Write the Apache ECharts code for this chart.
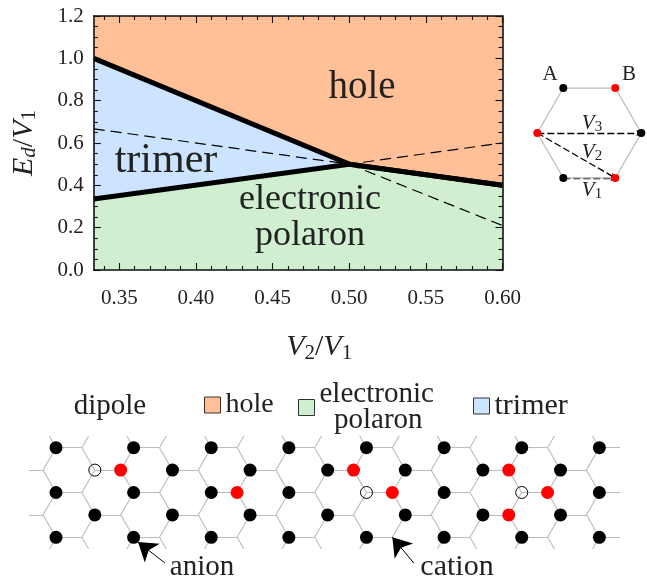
<!DOCTYPE html>
<html><head><meta charset="utf-8">
<style>html,body{margin:0;padding:0;background:#fff}#c{width:647px;height:581px}</style>
<script src="https://cdn.jsdelivr.net/npm/echarts@6/dist/echarts.min.js"></script>
</head><body><div id="c"></div>
<script>
// phase diagram data: [V2/V1, Ed/V1]
const holeTop = [[1/3,1.2],[0.6,1.2]];
const trimerTop = [[1/3,1.0],[0.5,0.5],[0.6,0.4]];
const polaronTop = [[1/3,0.335],[0.5,0.5],[0.6,0.4]];
const dashedA = [[1/3,0.667],[0.5,0.5],[0.6,0.6]];
const dashedB = [[0.5,0.5],[0.6,0.21]];
const xMajor = [0.35,0.40,0.45,0.50,0.55,0.60];
const xMinor = [0.34,0.36,0.37,0.38,0.39,0.41,0.42,0.43,0.44,0.46,0.47,0.48,0.49,0.51,0.52,0.53,0.54,0.56,0.57,0.58,0.59];
// lattice sites: [column, row] in bond-length columns and half-hexagon rows
const anionSites = [[0,0],[3,0],[6,0],[9,0],[12,0],[15,0],[18,0],[21,0],
  [4.5,1],[7.5,1],[10.5,1],[13.5,1],[16.5,1],[19.5,1],
  [0,2],[3,2],[6,2],[9,2],[15,2],[21,2],
  [1.5,3],[4.5,3],[7.5,3],[10.5,3],[13.5,3],[16.5,3],[19.5,3],
  [0,4],[3,4],[6,4],[9,4],[12,4],[15,4],[18,4],[21,4]];
const vacantSites = [[1.5,1],[12,2],[18,2]];
const chargedSites = [[2.5,1],[7,2],[11.5,1],[13,2],[17.5,1],[17.5,3],[19,2]];
const anionArrow = [[4.21,5.15],[3.17,4.21]];
const cationArrow = [[13.83,5.15],[13,4.0]];
// hexagon inset: [column, row]
const hexCorners = [[0,1],[0.5,2],[1.5,2],[2,1],[1.5,0],[0.5,0],[0,1]];
const hexBlack = [[0.5,2],[2,1],[0.5,0]];
const hexRed = [[1.5,2],[0,1],[1.5,0]];
const hexCouplings = [[[0.5,0],[1.5,0]],[[0,1],[1.5,0]],[[0,1],[2,1]]];

const FONT = '"Liberation Serif"';
const cHole='#FFC097', cTrimer='#CCE4FF', cPolaron='#CFEFD0';

// honeycomb bonds, built from the lattice rule; the grid clips the stubs
const bonds=[];
for(let r=-1;r<=5;r++){
  const odd=((r%2)+2)%2===1;
  for(let k=-1;k<=8;k++){
    const c=3*k+(odd?1.5:0);
    bonds.push({coords:[[c,r],[c+1,r]]},{coords:[[c,r],[c-0.5,r-1]]},{coords:[[c,r],[c-0.5,r+1]]});
  }
}
function area(name,data,color,lw){
  return {name,type:'line',data,xAxisIndex:0,yAxisIndex:0,symbol:'none',silent:true,
    lineStyle:{color:'#000',width:lw,cap:'butt',join:'miter'},itemStyle:{color},
    areaStyle:{color,opacity:1}};
}
function dashed(data){
  return {type:'line',data,xAxisIndex:0,yAxisIndex:0,symbol:'none',silent:true,z:3,
    lineStyle:{color:'#000',width:1.2,type:[11,6]}};
}
function xExtra(position,values,len,line){
  return {type:'value',gridIndex:0,min:1/3,max:0.6,position,z:10,
    axisLine:{show:line,onZero:false,lineStyle:{color:'#111',width:1.6}},
    axisTick:{show:true,inside:true,length:len,customValues:values,lineStyle:{color:'#111',width:1.1}},
    axisLabel:{show:false},splitLine:{show:false}};
}
function yAxisMain(position,labels){
  return {type:'value',gridIndex:0,min:0,max:1.2,interval:0.2,position,z:10,
    axisLine:{show:true,onZero:false,lineStyle:{color:'#111',width:1.6}},
    axisTick:{show:true,inside:true,length:7,lineStyle:{color:'#111',width:1.1}},
    minorTick:{show:true,splitNumber:4,length:4,lineStyle:{color:'#111',width:1.1}},
    splitLine:{show:false},minorSplitLine:{show:false},
    axisLabel:{show:labels,margin:10,padding:[4,0,0,0],color:'#222',fontFamily:FONT,fontSize:21,formatter:v=>v.toFixed(1)}};
}
const hidden=(gridIndex,min,max,inverse)=>({type:'value',gridIndex,min,max,inverse:!!inverse,show:false,splitLine:{show:false}});
function legendItem(name,left,top,color,size,gap){
  return {show:true,data:[name],left,top,orient:'horizontal',itemWidth:16,itemHeight:16,itemGap:gap,icon:'rect',
    selectedMode:false,padding:0,
    itemStyle:{color,borderColor:'#333',borderWidth:1},
    formatter:n=>n==='electronic polaron'?'electronic\n\u00a0\u00a0polaron':n,
    textStyle:{fontFamily:FONT,fontSize:size,color:'#222',lineHeight:26,padding:[0,0,0,0]}};
}
function txt(text,cx,cy,size,extra){
  return {type:'text',x:cx,y:cy,z:20,style:Object.assign({text,font:size+'px '+FONT,fill:'#222',align:'center',verticalAlign:'middle'},extra||{})};
}
function sub(text,cx,cy){
  return {type:'text',x:cx,y:cy,z:20,style:{text,align:'center',verticalAlign:'middle',fill:'#222',
    rich:{v:{fontFamily:FONT,fontStyle:'italic',fontSize:21,lineHeight:24,fill:'#222',color:'#222'},
          s:{fontFamily:FONT,fontSize:15,lineHeight:24,verticalAlign:'bottom',padding:[8,0,0,0],color:'#222'}}}};
}
const nameRich={v:{fontFamily:FONT,fontStyle:'italic',fontSize:30,color:'#222',lineHeight:34},
  n:{fontFamily:FONT,fontSize:30,color:'#222',lineHeight:34},
  s:{fontFamily:FONT,fontSize:21,color:'#222',lineHeight:34,padding:[12,0,0,0]},
  si:{fontFamily:FONT,fontStyle:'italic',fontSize:21,color:'#222',lineHeight:34,padding:[12,0,0,0]}};

const chart=echarts.init(document.getElementById('c'),null,{renderer:'canvas'});
chart.setOption({
  animation:false,backgroundColor:'#fff',
  grid:[
    {left:93.8,top:16,width:408.7,height:254,show:false,outerBoundsMode:'none'},
    {left:30.13,top:436.5,width:588.87,height:112,show:false,outerBoundsMode:'none'},
    {left:537.3,top:88,width:104,height:90,show:false,outerBoundsMode:'none'}
  ],
  xAxis:[
    Object.assign(xExtra('bottom',xMajor,7,true),{
      name:'{v|V}{s|2}{n|/}{v|V}{s|1}',nameLocation:'middle',nameGap:60,nameTextStyle:{rich:nameRich,padding:[0,0,0,42]},
      axisLabel:{show:true,customValues:xMajor,margin:18,color:'#222',fontFamily:FONT,fontSize:21,formatter:v=>v.toFixed(2)}}),
    xExtra('top',xMajor,7,true),
    xExtra('bottom',xMinor,4,false),
    xExtra('top',xMinor,4,false),
    hidden(1,-1,21.76),
    hidden(2,0,2)
  ],
  yAxis:[
    Object.assign(yAxisMain('left',true),{
      name:'{v|E}{si|d}{n|/}{v|V}{s|1}',nameLocation:'middle',nameGap:53,nameRotate:90,nameTextStyle:{rich:nameRich}}),
    yAxisMain('right',false),
    hidden(1,-0.5,4.5,true),
    hidden(2,0,2)
  ],
  legend:[
    legendItem('hole',204,391,cHole,28,7),
    legendItem('electronic polaron',298,380,cPolaron,29,8),
    legendItem('trimer',473,391,cTrimer,30,9)
  ],
  series:[
    area('hole',holeTop,cHole,0),
    area('trimer',trimerTop,cTrimer,5),
    area('electronic polaron',polaronTop,cPolaron,5),
    dashed(dashedA),dashed(dashedB),
    {type:'lines',coordinateSystem:'cartesian2d',xAxisIndex:4,yAxisIndex:2,clip:true,silent:true,data:bonds,
      lineStyle:{color:'#bdbdbd',width:1.1,opacity:1},symbol:'none'},
    {type:'scatter',xAxisIndex:4,yAxisIndex:2,data:anionSites,symbolSize:13,silent:true,clip:false,z:4,itemStyle:{color:'#000',opacity:1}},
    {type:'scatter',xAxisIndex:4,yAxisIndex:2,data:chargedSites,symbolSize:13,silent:true,clip:false,z:4,itemStyle:{color:'#f00',opacity:1}},
    {type:'scatter',xAxisIndex:4,yAxisIndex:2,data:vacantSites,symbolSize:12,silent:true,clip:false,z:4,itemStyle:{color:'transparent',borderColor:'#000',borderWidth:1,opacity:1}},
    {type:'lines',coordinateSystem:'cartesian2d',xAxisIndex:4,yAxisIndex:2,clip:false,silent:true,z:5,
      data:[{coords:anionArrow},{coords:cationArrow}],symbol:['none','arrow'],symbolSize:[0,18],
      lineStyle:{color:'#000',width:1,opacity:1}},
    {type:'line',xAxisIndex:5,yAxisIndex:3,data:hexCorners,symbol:'none',silent:true,lineStyle:{color:'#bdbdbd',width:1.3}},
    {type:'lines',coordinateSystem:'cartesian2d',xAxisIndex:5,yAxisIndex:3,clip:false,silent:true,z:3,
      data:hexCouplings.map(c=>({coords:c})),symbol:['none','arrow'],symbolSize:[0,5],
      lineStyle:{color:'#000',width:1.4,type:[7,3],opacity:1}},
    {type:'scatter',xAxisIndex:5,yAxisIndex:3,data:hexBlack,symbolSize:8,silent:true,clip:false,z:4,itemStyle:{color:'#000',opacity:1}},
    {type:'scatter',xAxisIndex:5,yAxisIndex:3,data:hexRed,symbolSize:8,silent:true,clip:false,z:4,itemStyle:{color:'#f00',opacity:1}}
  ],
  graphic:{elements:[
    txt('hole',362,88,39),
    txt('trimer',166,161,42),
    txt('electronic',310,200,36),
    txt('polaron',310,236,36),
    txt('dipole',110,406,29),
    txt('anion',202,567,29),
    txt('cation',457,567,30),
    txt('A',550,74,21),
    txt('B',629,74,21),
    sub('{v|V}{s|3}',592,123),
    sub('{v|V}{s|2}',592,152),
    sub('{v|V}{s|1}',592,190)
  ]}
});
</script></body></html>
